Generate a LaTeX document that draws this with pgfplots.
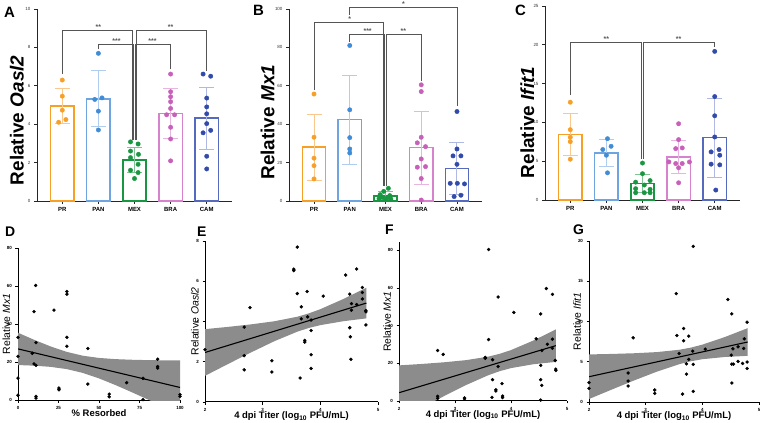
\documentclass[border=0pt]{standalone}
\usepackage{pgfplots}
\pgfplotsset{compat=1.18}
\usepackage{fontspec}
\setmainfont{Liberation Sans}

\definecolor{prC}{RGB}{247,160,40}
\definecolor{prL}{RGB}{250,200,140}
\definecolor{panC}{RGB}{65,140,215}
\definecolor{panE}{RGB}{110,165,225}
\definecolor{panL}{RGB}{175,205,238}
\definecolor{mexC}{RGB}{25,150,65}
\definecolor{mexL}{RGB}{130,195,150}
\definecolor{braC}{RGB}{200,95,185}
\definecolor{braE}{RGB}{215,130,205}
\definecolor{braL}{RGB}{232,180,225}
\definecolor{camC}{RGB}{50,75,170}
\definecolor{camE}{RGB}{85,105,190}
\definecolor{camL}{RGB}{175,185,228}
\definecolor{brkC}{RGB}{85,85,85}
\definecolor{bandC}{RGB}{140,140,140}

\newcommand{\grp}[7]{%
 \addplot[ybar, bar width=0.65, bar shift=0pt, draw=#4, fill=white, line width=1.5bp] coordinates {(#1,#2)};
 \addplot[mark=none, draw=none, error bars/.cd, y dir=both, y explicit, error bar style={line width=1bp, draw=#5}, error mark options={rotate=90, mark size=7.5bp, line width=1bp, draw=#5}] coordinates {(#1,#2) +- (0,#3)};
 \addplot[only marks, mark=*, mark size=2.2bp, #6] coordinates {#7};
}

\tikzset{sig/.style={font=\fontsize{7}{8}\selectfont\bfseries, text=brkC, anchor=south, inner sep=0.6bp}}

\pgfplotsset{
 barpanel/.style={scale only axis, anchor=south west, xmin=-0.7, xmax=4.7, ymin=0,
  axis lines*=left, axis line style={line width=0.9bp, black!85},
  xtick={0,1,2,3,4}, xticklabels={PR,PAN,MEX,BRA,CAM},
  tick style={line width=0.8bp, black!85}, tick align=outside, major tick length=3bp,
  xticklabel style={font=\fontsize{6}{7}\selectfont\bfseries},
  yticklabel style={font=\fontsize{4.5}{5}\selectfont, black!80},
  /pgf/number format/assume math mode=true, clip=false,
  ylabel style={font=\fontsize{19}{21}\selectfont\bfseries, anchor=center}},
 brk/.style={brkC, line width=0.9bp, sharp plot},
 scpanel/.style={scale only axis, anchor=south west, axis lines*=left,
  axis line style={line width=1bp, black}, tick align=outside, major tick length=2.5bp,
  tick style={line width=0.8bp, black},
  ticklabel style={font=\fontsize{4.5}{5}\selectfont\bfseries},
  /pgf/number format/assume math mode=true, clip mode=individual,
  xlabel style={font=\fontsize{9.5}{11}\selectfont\bfseries, at={(axis description cs:0.5,-0.088)}, anchor=center},
  ylabel style={font=\fontsize{10.5}{12}\selectfont, anchor=center}},
 band/.style={fill=bandC, draw=none},
 rline/.style={black, line width=1.1bp, sharp plot},
 dots/.style={only marks, mark=*, mark size=1.5bp, black}
}

\begin{document}
\begin{tikzpicture}
\useasboundingbox (0bp,0bp) rectangle (760bp,423bp);

% ---------------- A
\begin{axis}[barpanel, at={(37bp,222bp)}, width=195bp, height=192bp, ymax=10, ytick={0,2,...,10},
  ylabel={Relative \textit{Oasl2}}, ylabel style={at={(axis description cs:-0.103,0.42)}}]
\grp{0}{4.95}{0.93}{prC}{prL}{prC}{(0,6.3) (0,5.46) (0,4.73) (0.1,4.24) (-0.1,4.1)}
\grp{1}{5.32}{1.46}{panE}{panL}{panC}{(1,7.69) (1.1,5.37) (0.9,5.29) (1,4.68) (1,3.7)}
\grp{2}{2.13}{0.65}{mexC}{mexL}{mexC}{(1.89,3.08) (2.1,2.97) (1.89,2.6) (2.11,2.43) (1.89,2.26) (2.1,1.91) (1.89,1.6) (2.1,1.48) (2,1.17)}
\grp{3}{4.56}{1.31}{braE}{braL}{braC}{(3,6.61) (3,5.69) (3,5.43) (3,5.17) (3,4.82) (2.89,4.49) (3.11,4.49) (3,3.84) (3,3.23) (3,2.09)}
\grp{4}{4.31}{1.61}{camE}{camL}{camC}{(3.9,6.61) (4.11,6.5) (4,5.36) (4,4.9) (4,4.54) (4,4.03) (3.9,3.55) (4.11,3.68) (4,2.33) (4,1.67)}
\addplot[brk] coordinates {(0,6.62) (0,8.9) (1.94,8.9) (1.94,3.2)};
\addplot[brk] coordinates {(4,6.75) (4,8.9) (2.06,8.9) (2.06,3.2)};
\addplot[brk] coordinates {(1,7.9) (1,8.15) (1.98,8.15) (1.98,3.2)};
\addplot[brk] coordinates {(3,6.85) (3,8.15) (2.02,8.15) (2.02,3.2)};
\node[sig] at (axis cs:1,8.9) {**};
\node[sig] at (axis cs:3,8.9) {**};
\node[sig] at (axis cs:1.5,8.15) {***};
\node[sig] at (axis cs:2.5,8.15) {***};
\end{axis}

% ---------------- B
\begin{axis}[barpanel, at={(289bp,222bp)}, width=193bp, height=192bp, ymax=100, ytick={0,20,...,100},
  ylabel={Relative \textit{Mx1}}, ylabel style={at={(axis description cs:-0.111,0.41)}}]
\grp{0}{28.0}{17.2}{prC}{prL}{prC}{(0,55.7) (0,33.2) (0,22.3) (0,18.4) (0,11.5)}
\grp{1}{42.4}{23.2}{panE}{panL}{panC}{(1,81.0) (1,47.5) (1,33.0) (1,27.1) (1,25.0)}
\grp{2}{2.7}{2.0}{mexC}{mexL}{mexC}{(2.08,6.6) (1.95,5.0) (1.85,3.3) (2.12,2.8) (1.92,2.0) (2.05,1.8) (1.82,1.2) (2.15,1.0) (2.0,0.6)}
\grp{3}{27.8}{19.0}{braE}{braL}{braC}{(3,60.5) (3,57.0) (3,33.2) (2.89,30.3) (3.12,28.3) (3,21.9) (3.12,17.9) (2.89,17.6) (3,11.7) (3,0.5)}
\grp{4}{17.0}{13.5}{camE}{camL}{camC}{(4,46.6) (4,27.1) (3.89,23.5) (4.11,23.5) (4,19.1) (3.81,9.2) (4.01,9.2) (4.21,8.9) (4.11,3.0) (3.92,2.3)}
\addplot[brk] coordinates {(0,57.7) (0,93.2) (1.94,93.2) (1.94,8)};
\addplot[brk] coordinates {(1,83) (1,86.8) (1.98,86.8) (1.98,8)};
\addplot[brk] coordinates {(3,62.3) (3,86.8) (2.02,86.8) (2.02,8)};
\addplot[brk] coordinates {(1,97) (1,101) (4,101) (4,49.5)};
\node[sig] at (axis cs:1,93.2) {*};
\node[sig] at (axis cs:1.5,86.8) {***};
\node[sig] at (axis cs:2.5,86.8) {**};
\node[sig] at (axis cs:2.5,101) {*};
\end{axis}

% ---------------- C
\begin{axis}[barpanel, at={(545bp,223bp)}, width=195bp, height=194bp, ymax=25, ytick={0,5,...,25},
  ylabel={Relative \textit{Ifit1}}, ylabel style={at={(axis description cs:-0.09,0.40)}}]
\grp{0}{8.42}{2.7}{prC}{prL}{prC}{(0,12.6) (0,9.06) (0,8.08) (0,7.52) (0,5.26)}
\grp{1}{6.07}{1.7}{panE}{panL}{panC}{(1.03,7.9) (1.13,6.92) (0.9,6.5) (1,5.77) (1.03,3.5)}
\grp{2}{2.15}{1.2}{mexC}{mexL}{mexC}{(2,4.76) (2,3.39) (1.81,2.3) (2.21,2.5) (2.05,1.93) (1.81,1.46) (2.21,1.37) (1.81,0.94) (2.05,0.94) (2.21,0.94)}
\grp{3}{5.56}{2.14}{braE}{braL}{braC}{(3,9.83) (3,7.78) (3.1,6.71) (2.92,6.62) (2.73,4.91) (2.92,4.7) (3.1,4.7) (3.3,4.9) (3,4.15) (3,2.22)}
\grp{4}{8.03}{5.1}{camE}{camL}{camC}{(4,19.15) (4,13.33) (4,10.85) (4,8.12) (4.12,6.5) (3.9,6.2) (4.14,5.77) (3.9,4.62) (4.14,4.53) (4.03,1.28)}
\addplot[brk] coordinates {(0,13.5) (0,20.3) (1.97,20.3) (1.97,5.3)};
\addplot[brk] coordinates {(4,19.75) (4,20.3) (2.03,20.3) (2.03,5.3)};
\node[sig] at (axis cs:1,20.3) {**};
\node[sig] at (axis cs:3,20.3) {**};
\end{axis}

% ---------------- D
\begin{axis}[scpanel, at={(18bp,23bp)}, width=162bp, height=152bp, xmin=0, xmax=100, ymin=0, ymax=80,
  xtick={0,25,50,75,100}, ytick={0,20,40,60,80}, xlabel={\% Resorbed}, ylabel={Relative \textit{Mx1}},
  ylabel style={at={(axis description cs:-0.071,0.5)}}]
\addplot[band] coordinates {(0,35.4) (10,31.67) (20,28.23) (30,25.34) (40,23.31) (50,22.14) (60,21.52) (70,21.19) (80,20.99) (90,20.87) (100,20.8) (100,-7.6) (90,-3.61) (80,0.33) (70,4.19) (60,7.92) (50,11.36) (40,14.25) (30,16.28) (20,17.45) (10,18.07) (0,18.4)};
\addplot[rline] coordinates {(0,26.9) (100,6.6)};
\addplot[dots] coordinates {(10.9,60.3) (9.9,46.5) (22.2,47.3) (30.2,57.1) (30.2,55.7) (30.2,33.0) (30.2,28.3) (11.1,30.2) (8.8,24.6) (9.9,19.0) (11.1,18.2) (43.1,27.1) (43.1,8.4) (25.3,6.3) (25.3,5.4) (11.1,1.9) (11.1,1.0) (56.3,3.1) (56.3,1.7) (67.1,9.1) (77.2,11.4) (77.2,0.2) (86.2,21.5) (86.2,17.6) (86.2,16.8) (100,2.8) (100,1.9) (0,33.0) (0,23.0) (0,11.5) (0,2.5)};
\end{axis}

% ---------------- E
\begin{axis}[scpanel, at={(205bp,21bp)}, width=173bp, height=161bp, xmin=2, xmax=5, ymin=0, ymax=8,
  xtick={2,3,4,5}, ytick={0,2,4,6,8}, xlabel={4 dpi Titer (log\textsubscript{10} PFU/mL)}, ylabel={Relative \textit{Oasl2}},
  ylabel style={at={(axis description cs:-0.058,0.5)}}]
\addplot[band] coordinates {(2,3.62) (2.4,3.733) (2.8,3.858) (3.2,4.011) (3.6,4.236) (3.8,4.403) (4.0,4.612) (4.4,5.119) (4.8,5.68) (4.8,4.156) (4.4,4.015) (4.0,3.82) (3.8,3.679) (3.6,3.494) (3.2,3.017) (2.8,2.466) (2.4,1.889) (2,1.30)};
\addplot[rline] coordinates {(2,2.46) (4.8,4.918)};
\addplot[dots] coordinates {(2.78,4.69) (2.68,3.72) (2.68,2.30) (2.68,1.60) (3.16,2.05) (3.16,1.49) (3.60,7.70) (3.54,6.60) (3.54,6.53) (3.60,5.39) (3.77,5.49) (3.67,4.73) (3.67,4.13) (3.78,4.23) (3.84,4.07) (3.84,3.55) (3.73,3.06) (3.73,2.98) (3.84,2.35) (3.84,1.67) (3.65,1.19) (4.05,5.26) (4.44,6.31) (4.63,6.61) (4.51,5.36) (4.54,4.89) (4.54,4.56) (4.63,4.84) (4.73,5.69) (4.73,5.44) (4.73,5.12) (4.79,4.55) (4.79,4.48) (4.79,3.83) (4.51,3.69) (4.52,3.24) (4.53,2.12) (2.0,2.6)};
\end{axis}

% ---------------- F
\begin{axis}[scpanel, at={(399bp,22bp)}, width=168bp, height=159bp, xmin=2, xmax=5, ymin=0, ymax=84.4,
  xtick={2,3,4,5}, ytick={0,20,40,60,80}, xlabel={4 dpi Titer (log\textsubscript{10} PFU/mL)}, ylabel={Relative \textit{Mx1}},
  ylabel style={at={(axis description cs:-0.071,0.5)}}]
\addplot[band] coordinates {(2,18.9) (2.4,19.65) (2.8,20.54) (3.2,21.7) (3.6,23.59) (3.8,25.07) (4.0,27.02) (4.4,32.1) (4.8,38.0) (4.8,20.76) (4.4,19.52) (4.0,17.46) (3.8,15.85) (3.6,13.75) (3.2,8.5) (2.8,2.54) (2.4,-3.71) (2,-10.1)};
\addplot[rline] coordinates {(2,4.4) (4.8,29.38)};
\addplot[dots] coordinates {(3.60,80.4) (3.77,55.2) (4.05,47.0) (4.53,46.2) (4.63,59.7) (4.74,56.6) (3.60,32.6) (4.45,33.0) (4.74,32.8) (4.65,30.1) (4.74,28.0) (4.55,26.8) (2.69,26.8) (2.79,24.7) (3.54,23.1) (3.54,22.7) (3.67,21.9) (4.79,21.5) (3.77,18.3) (4.53,18.9) (4.80,16.9) (4.80,16.2) (3.67,11.3) (3.84,9.2) (4.53,11.3) (4.55,8.3) (3.73,6.0) (3.73,5.3) (2.69,2.5) (2.69,1.4) (3.17,1.6) (3.17,1.1) (3.66,1.9) (3.85,2.6) (3.85,1.8) (4.53,0.5)};
\end{axis}

% ---------------- G
\begin{axis}[scpanel, at={(589bp,21bp)}, width=170bp, height=161bp, xmin=2, xmax=5, ymin=0, ymax=20,
  xtick={2,3,4,5}, ytick={0,5,10,15,20}, xlabel={4 dpi Titer (log\textsubscript{10} PFU/mL)}, ylabel={Relative \textit{Ifit1}},
  ylabel style={at={(axis description cs:-0.07,0.5)}}]
\addplot[band] coordinates {(2,5.91) (2.4,5.97) (2.8,6.057) (3.2,6.2) (3.6,6.496) (3.8,6.761) (4.0,7.125) (4.4,8.077) (4.8,9.172) (4.8,5.732) (4.4,5.595) (4.0,5.315) (3.8,5.063) (3.6,4.712) (3.2,3.776) (2.8,2.687) (2.4,1.54) (2,0.37)};
\addplot[rline] coordinates {(2,3.14) (4.8,7.452)};
\addplot[dots] coordinates {(3.84,19.34) (3.54,13.47) (4.45,12.73) (4.52,10.95) (4.79,9.92) (2.78,7.98) (3.67,9.13) (3.55,8.26) (3.76,8.18) (3.67,7.60) (4.74,7.85) (4.73,6.65) (4.54,6.61) (4.63,6.86) (4.05,6.57) (3.83,6.32) (3.59,6.03) (4.51,5.83) (3.76,5.29) (4.63,5.04) (4.79,4.96) (4.71,4.79) (4.55,4.71) (4.52,4.71) (3.72,4.75) (3.84,4.67) (4.79,4.17) (2.69,3.60) (3.72,3.47) (2.69,2.60) (2.69,1.98) (4.52,2.36) (3.16,1.49) (3.16,1.07) (3.84,1.32) (3.65,0.99) (2.0,2.4) (2.0,1.7)};
\end{axis}

% panel letters
\node[font=\fontsize{15}{15}\selectfont\bfseries, anchor=north west, inner sep=0] at (4bp,416bp) {A};
\node[font=\fontsize{15}{15}\selectfont\bfseries, anchor=north west, inner sep=0] at (253bp,418bp) {B};
\node[font=\fontsize{15}{15}\selectfont\bfseries, anchor=north west, inner sep=0] at (515bp,418bp) {C};
\node[font=\fontsize{14}{14}\selectfont\bfseries, anchor=north west, inner sep=0] at (5bp,196bp) {D};
\node[font=\fontsize{14}{14}\selectfont\bfseries, anchor=north west, inner sep=0] at (197bp,196bp) {E};
\node[font=\fontsize{14}{14}\selectfont\bfseries, anchor=north west, inner sep=0] at (385bp,198bp) {F};
\node[font=\fontsize{14}{14}\selectfont\bfseries, anchor=north west, inner sep=0] at (573bp,198bp) {G};
\end{tikzpicture}
\end{document}
